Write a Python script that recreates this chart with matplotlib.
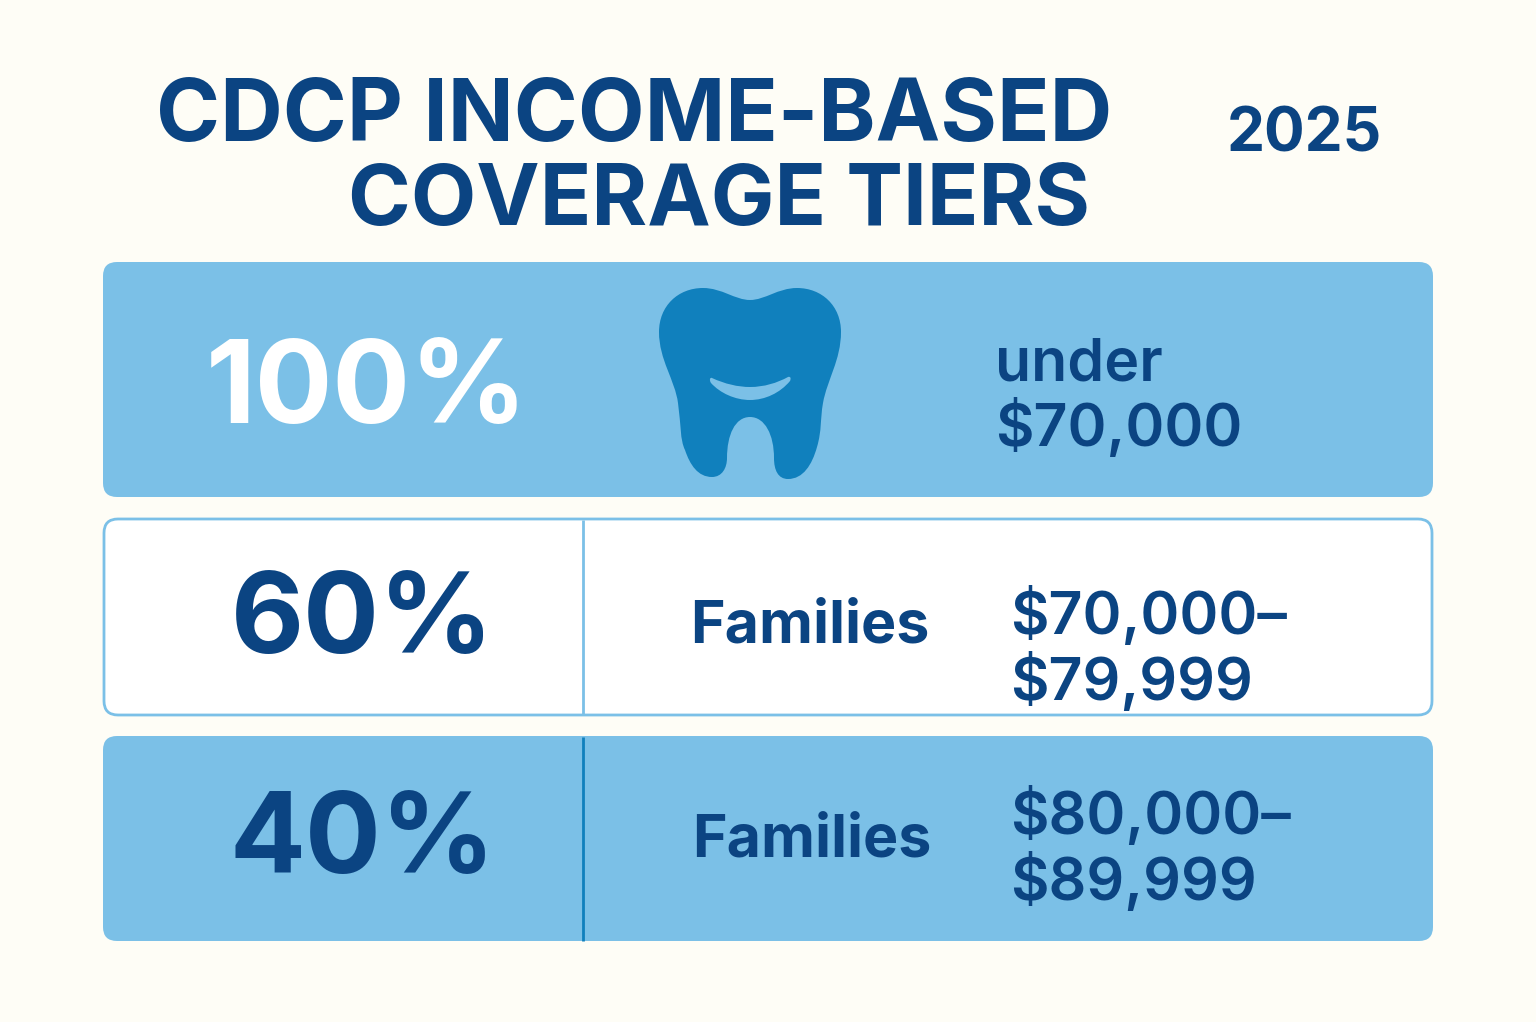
import matplotlib
matplotlib.use("Agg")
from matplotlib import pyplot as plt
from matplotlib.patches import FancyBboxPatch, PathPatch
from matplotlib.path import Path

W, H = 1536, 1022
BG = "#fefdf6"
BLUE = "#7bc0e7"
NAVY = "#0b4482"
MID = "#1080bd"

title_lines = ["CDCP INCOME-BASED", "COVERAGE TIERS"]
year = "2025"
percents = ["100%", "60%", "40%"]
audience = ["", "Families", "Families"]
incomes = ["under\n$70,000", "$70,000–\n$79,999", "$80,000–\n$89,999"]

plt.rcParams['font.family'] = ['Inter', 'DejaVu Sans']

fig = plt.figure(figsize=(W / 100, H / 100), dpi=100, facecolor=BG)
ax = fig.add_axes([0, 0, 1, 1])
ax.set_xlim(0, W)
ax.set_ylim(H, 0)
ax.axis("off")


def panel(x0, y0, x1, y1, fill, edge=None):
    ax.add_patch(FancyBboxPatch((x0, y0), x1 - x0, y1 - y0,
                                boxstyle="round,pad=0,rounding_size=14",
                                fc=fill, ec=edge if edge else "none", lw=2))


def curves(start, segments, close=False):
    verts = [start]
    codes = [Path.MOVETO]
    for seg in segments:
        verts += seg
        codes += [Path.CURVE4] * 3
    if close:
        verts.append(start)
        codes.append(Path.CLOSEPOLY)
    return Path(verts, codes)


panel(103, 262, 1433, 497, BLUE)
panel(104, 519, 1432, 715, "white", BLUE)
panel(103, 736, 1433, 941, BLUE)
ax.plot([583, 583], [520, 714], color=BLUE, lw=2, solid_capstyle="butt")
ax.plot([583, 583], [737, 941], color=MID, lw=2, solid_capstyle="butt")

ax.text(634, 118, title_lines[0], fontsize=62.3, fontweight="bold", color=NAVY, ha="center", va="center")
ax.text(719, 202, title_lines[1], fontsize=61.2, fontweight="bold", color=NAVY, ha="center", va="center")
ax.text(1304, 135, year, fontsize=43.5, fontweight="bold", color=NAVY, ha="center", va="center")

ax.text(367, 393, percents[0], fontsize=83, fontweight="bold", color="white", ha="center", va="center")
ax.text(362, 624, percents[1], fontsize=81, fontweight="bold", color=NAVY, ha="center", va="center")
ax.text(363, 843, percents[2], fontsize=81, fontweight="bold", color=NAVY, ha="center", va="center")

ax.text(810, 627, audience[1], fontsize=42.5, fontweight="bold", color=NAVY, ha="center", va="center")
ax.text(812, 841, audience[2], fontsize=42.5, fontweight="bold", color=NAVY, ha="center", va="center")

ax.text(995, 398, incomes[0], fontsize=42.5, fontweight="semibold", color=NAVY, ha="left", va="center", linespacing=1.12)
ax.text(1010, 649, incomes[1], fontsize=42.5, fontweight="semibold", color=NAVY, ha="left", va="center", linespacing=1.12)
ax.text(1010, 849, incomes[2], fontsize=42.5, fontweight="semibold", color=NAVY, ha="left", va="center", linespacing=1.12)

# tooth icon
tooth = curves((750, 300), [
    [(735, 300), (722, 288), (703, 288)],
    [(678, 288), (659, 306), (659, 332)],
    [(659, 360), (675, 380), (678, 403)],
    [(681, 425), (680, 440), (685, 450)],
    [(690, 465), (698, 477), (712, 477)],
    [(722, 477), (727, 468), (727, 458)],
    [(727, 435), (735, 417), (750, 417)],
    [(765, 417), (774, 435), (774, 458)],
    [(774, 470), (778, 479), (788, 479)],
    [(803, 479), (812, 465), (817, 447)],
    [(822, 430), (820, 420), (823, 403)],
    [(827, 380), (841, 360), (841, 332)],
    [(841, 306), (822, 288), (797, 288)],
    [(778, 288), (765, 300), (750, 300)],
], close=True)
ax.add_patch(PathPatch(tooth, fc=MID, ec="none"))
smile = curves((712, 378), [
    [(725, 384), (738, 387), (750, 387)],
    [(764, 387), (777, 383), (788, 377)],
    [(791, 376), (791, 379), (790, 381)],
    [(780, 393), (765, 400), (750, 400)],
    [(735, 400), (720, 393), (711, 383)],
    [(709, 380), (710, 377), (712, 378)],
], close=True)
ax.add_patch(PathPatch(smile, fc=BLUE, ec="none"))

fig.savefig("out.png", dpi=100, facecolor=BG)
